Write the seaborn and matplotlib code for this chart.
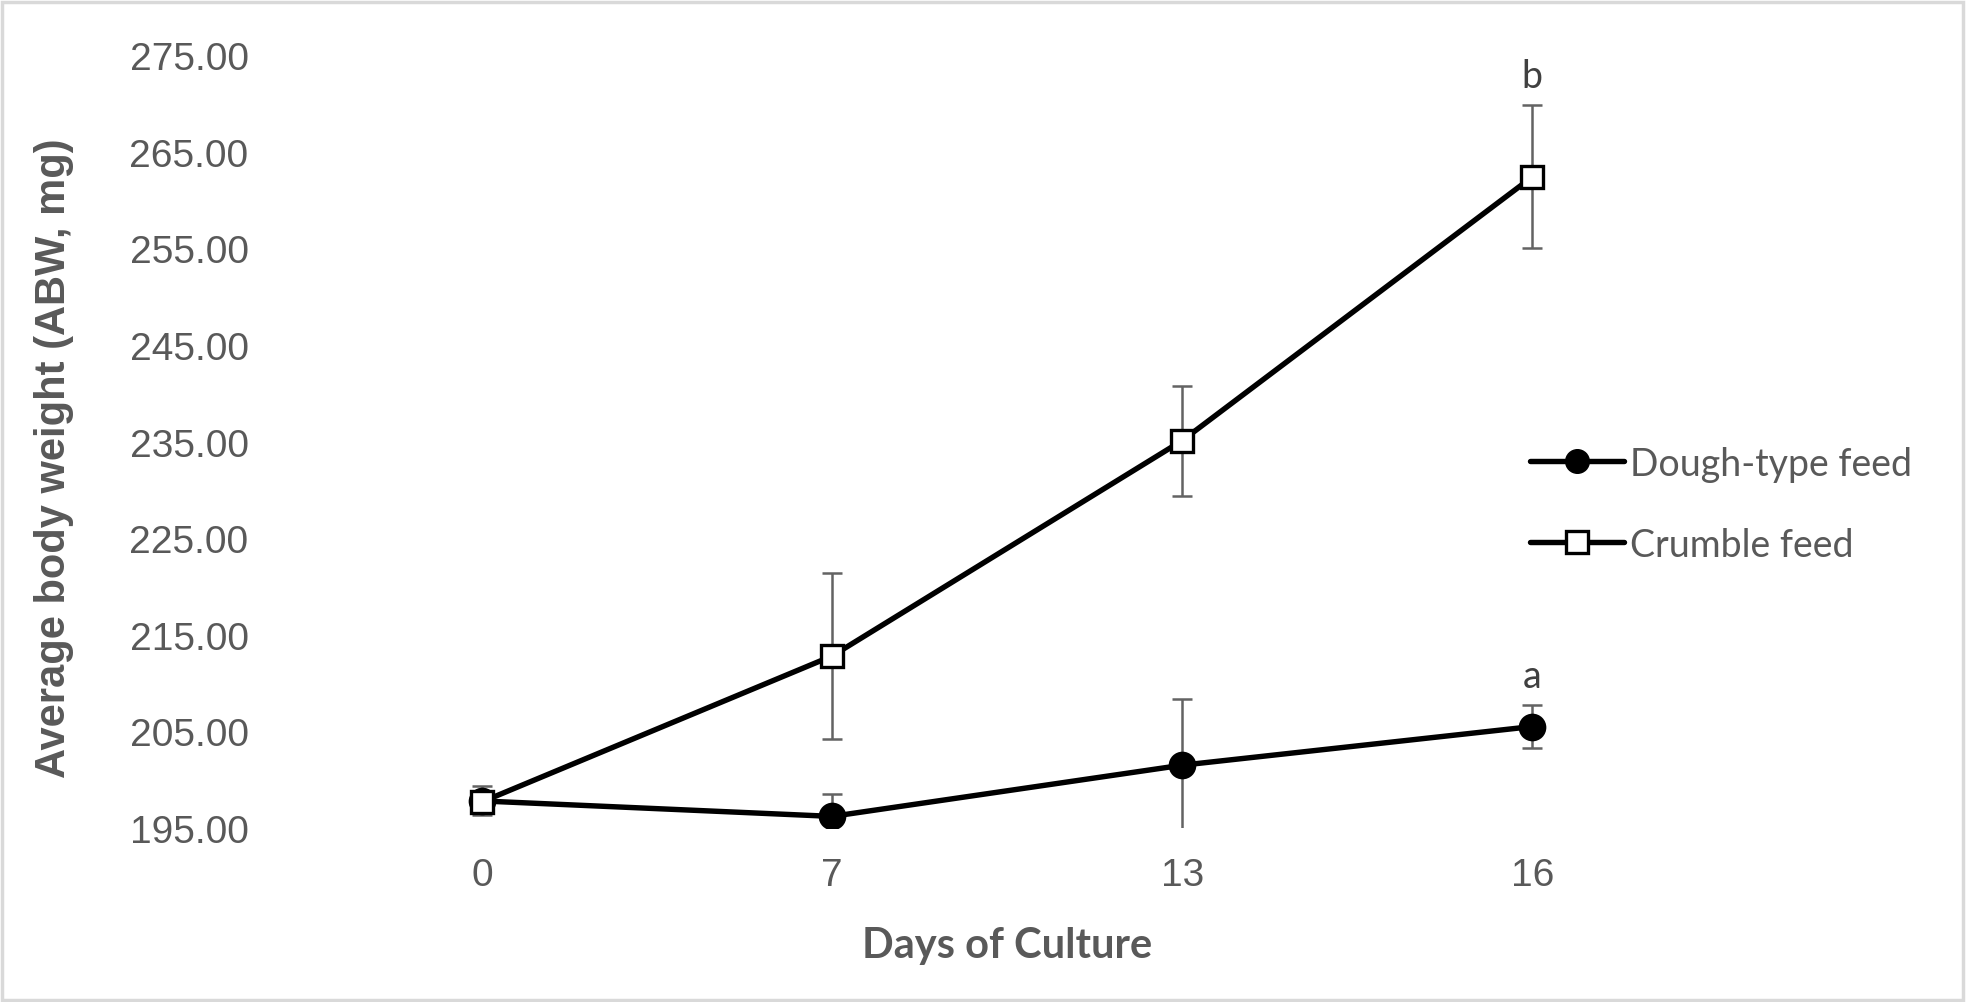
#!/usr/bin/env python3
"""
Average body weight over days of culture: dough-type vs crumble feed
"""
import numpy as np
import pandas as pd
import matplotlib
matplotlib.use('Agg')
import matplotlib.pyplot as plt
from matplotlib.lines import Line2D
from matplotlib.patches import Rectangle
import seaborn as sns

# data
days = ['0', '7', '13', '16']
dough_mean = [197.8, 196.2, 201.5, 205.5]
dough_err = [1.5, 2.3, 6.8, 2.2]
crumble_mean = [197.7, 212.8, 235.1, 262.4]
crumble_err = [1.0, 8.6, 5.7, 7.4]
series = ['Dough-type feed', 'Crumble feed']
letters = {'Dough-type feed': 'a', 'Crumble feed': 'b'}
yticks = [195, 205, 215, 225, 235, 245, 255, 265, 275]

df = pd.DataFrame({
    'day': days * 2,
    'abw': dough_mean + crumble_mean,
    'err': dough_err + crumble_err,
    'feed': [series[0]] * len(days) + [series[1]] * len(days),
})

sns.set_theme(style='white')
GREY = '#595959'
TICKFONT = ['Liberation Sans Narrow', 'Liberation Sans', 'DejaVu Sans']
CALIBRI = ['Lato', 'DejaVu Sans']
LW = 3.9

fig = plt.figure(figsize=(19.67, 10.03), dpi=100)
ax = fig.add_axes([0.156, 0.1735, 0.712, 0.7705])

# error bars first so the lines and markers sit on top
for name, grp in df.groupby('feed', sort=False):
    pos = np.arange(len(grp))
    ax.errorbar(pos, grp['abw'], yerr=grp['err'], fmt='none', ecolor='#636363',
                elinewidth=1.8, capsize=7.5, capthick=1.8, zorder=1)

sns.pointplot(data=df, x='day', y='abw', hue='feed', order=days, hue_order=series,
              palette=['black', 'black'], markers=['o', 's'], linestyles=['-', '-'],
              errorbar=None, dodge=False, markersize=17, linewidth=LW, ax=ax, legend=False)

for ln in ax.lines:
    if ln.get_marker() == 's':
        ln.set_markersize(16)
        ln.set_markerfacecolor('white')
        ln.set_markeredgecolor('black')
        ln.set_markeredgewidth(2.4)
        ln.set_zorder(4)
    elif ln.get_marker() == 'o':
        ln.set_zorder(3)

# significance letters above the last error bar
for name, grp in df.groupby('feed', sort=False):
    last = grp.iloc[-1]
    ax.annotate(letters[name], (len(grp) - 1, last['abw'] + last['err']),
                xytext=(0, 8), textcoords='offset points', ha='center', va='bottom',
                fontsize=27, color='#404040', family=CALIBRI)

ax.set_ylim(195, 275)
ax.set_xlim(-0.5, len(days) - 0.5)
ax.set_yticks(yticks)
ax.set_yticklabels([f'{v:.2f}' for v in yticks], family=TICKFONT, fontsize=28, color=GREY)
ax.set_xticks(range(len(days)))
ax.set_xticklabels(days, family=TICKFONT, fontsize=28, color=GREY)
ax.tick_params(axis='y', length=0, pad=42)
ax.tick_params(axis='x', length=0, pad=21)
sns.despine(ax=ax, left=True, bottom=True)
ax.grid(False)

ax.set_ylabel('Average body weight (ABW, mg)', fontsize=30, fontweight='bold',
              color=GREY, family=['Liberation Sans', 'DejaVu Sans'])
ax.yaxis.set_label_coords(-0.166, 0.48)
ax.set_xlabel('Days of Culture', fontsize=30, fontweight='bold', color=GREY, family=CALIBRI)
ax.xaxis.set_label_coords(0.5, -0.127)

handles = [
    Line2D([], [], color='black', lw=LW, marker='o', markersize=17),
    Line2D([], [], color='black', lw=LW, marker='s', markersize=16,
           markerfacecolor='white', markeredgewidth=2.4),
]
leg = fig.legend(handles, series, loc='center left', bbox_to_anchor=(0.778, 0.4965),
                 frameon=False, handlelength=2.5, handletextpad=0.15, labelspacing=1.2,
                 borderpad=0, borderaxespad=0,
                 prop={'family': CALIBRI, 'size': 27})
for t in leg.get_texts():
    t.set_color(GREY)

# light grey frame around the whole chart
fig.patches.append(Rectangle((0.001, 0.002), 0.997, 0.995, transform=fig.transFigure,
                             fill=False, edgecolor='#d9d9d9', linewidth=2.5))

fig.savefig('out.png', dpi=100)
